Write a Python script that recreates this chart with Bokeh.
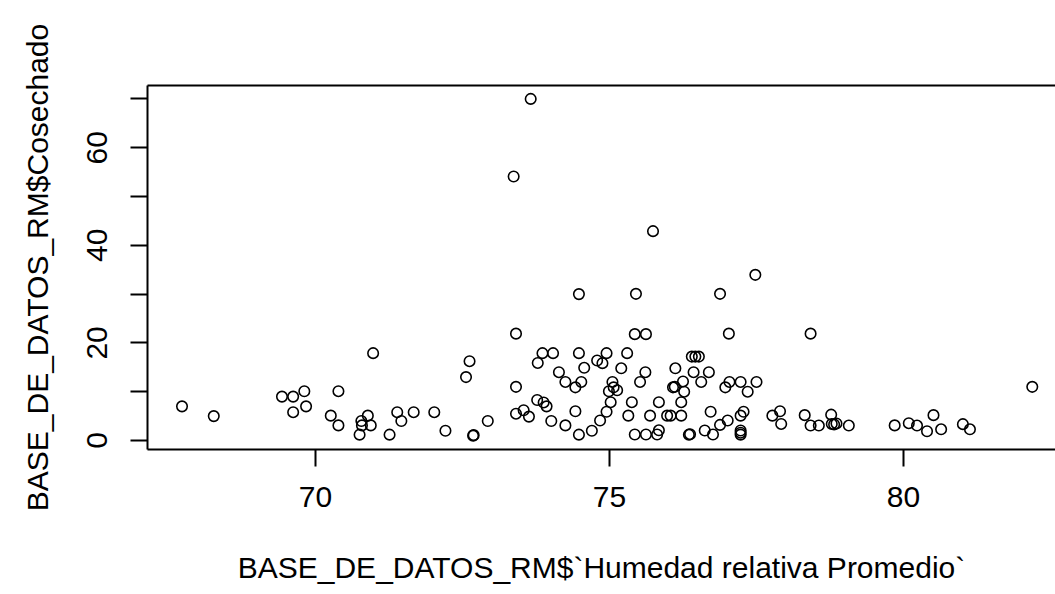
from bokeh.plotting import figure
from bokeh.models import Range1d, FixedTicker, LinearAxis
from bokeh.embed import file_html
from bokeh.resources import INLINE

# Humedad relativa Promedio (x) and Cosechado (y)
humedad = [67.73, 68.27, 69.43, 69.62, 69.81, 69.62, 69.84, 70.39, 70.26, 70.39,
           70.98, 70.89, 70.78, 70.94, 70.79, 70.75, 71.26, 71.39, 71.46, 71.67,
           72.02, 72.21, 72.62, 72.56, 72.68, 72.69, 72.93, 73.41, 73.37, 73.66,
           73.41, 73.41, 73.54, 73.63, 73.77, 73.88, 73.93, 73.86, 74.04, 73.78,
           74.14, 74.25, 74.42, 74.52, 74.57, 74.48, 74.48, 74.01, 74.25, 74.42,
           74.48, 74.70, 74.84, 74.95, 75.02, 74.95, 74.79, 74.88, 75.05, 74.99,
           75.13, 75.07, 75.20, 75.30, 75.43, 75.62, 75.52, 75.61, 75.45, 75.74,
           75.38, 75.32, 75.43, 75.62, 75.84, 75.81, 75.84, 75.69, 75.98, 76.04,
           76.22, 76.22, 76.27, 76.08, 76.11, 76.25, 76.12, 76.43, 76.69, 76.56,
           76.40, 76.46, 76.52, 76.35, 76.37, 76.62, 76.76, 76.88, 77.01, 76.72,
           77.28, 77.23, 77.23, 77.23, 77.23, 77.04, 76.97, 77.23, 77.35, 77.50,
           76.88, 77.03, 77.48, 78.42, 77.77, 77.90, 77.92, 78.32, 78.42, 78.56,
           78.77, 78.78, 78.82, 78.86, 79.07, 79.85, 80.09, 80.23, 80.40, 80.51,
           80.64, 81.01, 81.13, 82.19]
cosechado = [7.0, 5.0, 9.0, 9.0, 10.1, 5.8, 7.0, 10.1, 5.1, 3.1,
             17.9, 5.1, 4.0, 3.1, 3.1, 1.2, 1.2, 5.8, 4.0, 5.8,
             5.8, 2.0, 16.25, 13.0, 1.0, 1.1, 4.0, 21.9, 54.1, 70.0,
             11.0, 5.5, 6.2, 4.9, 8.3, 7.8, 7.0, 17.9, 17.9, 15.9,
             14.0, 12.0, 10.9, 12.0, 14.9, 17.9, 30.0, 4.0, 3.1, 6.0,
             1.2, 2.0, 4.1, 5.9, 7.85, 17.9, 16.4, 15.85, 12.0, 10.1,
             10.3, 10.9, 14.8, 17.9, 21.8, 21.8, 12.0, 14.0, 30.06, 42.9,
             7.85, 5.1, 1.23, 1.23, 2.1, 1.23, 7.85, 5.1, 5.1, 5.1,
             5.1, 7.85, 10.0, 10.9, 11.0, 12.1, 14.8, 14.0, 14.0, 12.0,
             17.2, 17.2, 17.2, 1.2, 1.3, 2.05, 1.23, 3.2, 4.1, 5.9,
             5.9, 5.1, 2.05, 1.6, 1.2, 12.0, 10.9, 12.0, 10.0, 12.0,
             30.06, 21.9, 33.95, 21.9, 5.1, 6.0, 3.4, 5.2, 3.07, 3.07,
             5.3, 3.4, 3.3, 3.5, 3.07, 3.1, 3.55, 3.07, 1.9, 5.2,
             2.3, 3.35, 2.3, 11.0]

x_ticks = [70, 75, 80]
y_ticks = [0, 10, 20, 30, 40, 50, 60, 70]
y_tick_labels = {10: "", 30: "", 50: "", 70: "", 0: "0", 20: "20", 40: "40", 60: "60"}

FONT = "Liberation Sans"

p = figure(width=1055, height=594, output_backend="svg", toolbar_location=None,
           x_range=Range1d(67.143, 82.585), y_range=Range1d(-1.84, 72.75),
           min_border_left=147, min_border_right=0, min_border_top=85, min_border_bottom=145,
           x_axis_label="BASE_DE_DATOS_RM$`Humedad relativa Promedio`",
           y_axis_label="BASE_DE_DATOS_RM$Cosechado")
p.grid.visible = False
p.outline_line_color = None
p.background_fill_color = "white"
p.border_fill_color = "white"

p.scatter(humedad, cosechado, marker="circle", size=10.5, fill_color=None,
          line_color="black", line_width=1.6)

for ax in (p.xaxis[0], p.yaxis[0]):
    ax.axis_line_color = "black"
    ax.axis_line_width = 2
    ax.major_tick_line_color = "black"
    ax.major_tick_line_width = 2
    ax.major_tick_out = 17
    ax.major_tick_in = 0
    ax.minor_tick_line_color = None
    ax.major_label_text_font = FONT
    ax.major_label_text_font_size = "30px"
    ax.major_label_text_color = "black"
    ax.axis_label_text_font = FONT
    ax.axis_label_text_font_size = "30px"
    ax.axis_label_text_font_style = "normal"
    ax.axis_label_text_color = "black"

p.xaxis[0].ticker = FixedTicker(ticks=x_ticks)
p.xaxis[0].major_label_standoff = 20
p.xaxis[0].axis_label_standoff = 41

p.yaxis[0].ticker = FixedTicker(ticks=y_ticks)
p.yaxis[0].major_label_overrides = y_tick_labels
p.yaxis[0].major_label_orientation = "vertical"
p.yaxis[0].major_label_standoff = 23
p.yaxis[0].axis_label_standoff = 31

top = LinearAxis(ticker=FixedTicker(ticks=[]), axis_line_color="black", axis_line_width=2,
                 major_tick_line_color=None, minor_tick_line_color=None,
                 major_label_text_font_size="0px")
p.add_layout(top, "above")

open("out.html", "w").write(file_html(p, INLINE))
